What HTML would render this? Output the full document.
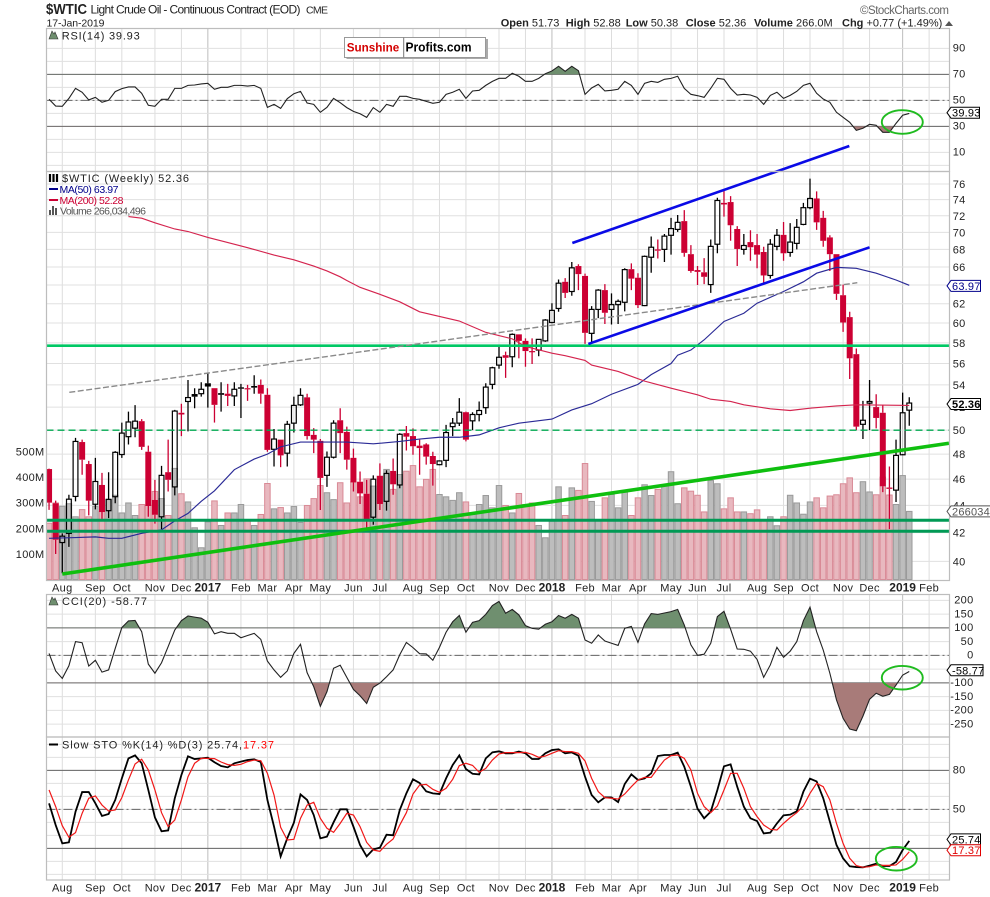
<!DOCTYPE html>
<html lang="en">
<head>
<meta charset="utf-8">
<title>$WTIC Light Crude Oil weekly chart</title>
<style>
html,body{margin:0;padding:0;background:#fff;}
svg{display:block;font-family:"Liberation Sans",sans-serif;}
text{fill:#222;}
</style>
</head>
<body>
<svg id="chart" xmlns="http://www.w3.org/2000/svg" width="990" height="897" viewBox="0 0 990 897">
  <rect x="0" y="0" width="990" height="897" fill="#ffffff"/>
  <g id="gridLayer"></g>
  <g id="markLayer"></g>
  <g id="noteLayer"></g>
  <g id="frameLayer"></g>
  <g id="labelLayer"></g>

  <text x="46" y="14" font-size="14.5" font-weight="bold" textLength="41" lengthAdjust="spacingAndGlyphs">$WTIC</text>
  <text x="90.5" y="13.5" font-size="12" textLength="210">Light Crude Oil - Continuous Contract (EOD)</text>
  <text x="306" y="13.5" font-size="10.5" textLength="22">CME</text>
  <text x="46.5" y="26.5" font-size="10.5" textLength="58">17-Jan-2019</text>
  <text x="860" y="14" font-size="11.5" fill="#666" style="fill:#666" textLength="89">©StockCharts.com</text>

  <g font-size="11">
    <text x="500.7" y="26.5"><tspan font-weight="bold">Open</tspan> 51.73</text>
    <text x="565.7" y="26.5"><tspan font-weight="bold">High</tspan> 52.88</text>
    <text x="625.7" y="26.5"><tspan font-weight="bold">Low</tspan> 50.38</text>
    <text x="685.7" y="26.5"><tspan font-weight="bold">Close</tspan> 52.36</text>
    <text x="754" y="26.5"><tspan font-weight="bold">Volume</tspan> 266.0M</text>
    <text x="842" y="26.5"><tspan font-weight="bold">Chg</tspan> +0.77 (+1.49%)</text>
    <path d="M945 26 L949 21 L953 26 Z" fill="#555"/>
  </g>

  <g>
    <rect x="346.5" y="39" width="141.5" height="20" fill="#aaa"/>
    <rect x="344.5" y="37.5" width="141" height="20" fill="#fff" stroke="#999"/>
    <line x1="403.7" y1="37.5" x2="403.7" y2="57.5" stroke="#777"/>
    <text x="346.7" y="51.5" font-size="12" font-weight="bold" style="fill:#d40000" textLength="52.5" lengthAdjust="spacingAndGlyphs">Sunshine</text>
    <text x="405.5" y="51.5" font-size="12.5" font-weight="bold" style="fill:#000" textLength="66" lengthAdjust="spacingAndGlyphs">Profits.com</text>
  </g>

  <g>
    <path d="M49 39 L52 31 L54 34 L55 32 L58 39 Z" fill="#6f8f6f" stroke="#333" stroke-width=".6"/>
    <text x="61.7" y="39.5" font-size="11" textLength="78">RSI(14) 39.93</text>
  </g>
  <g>
    <path d="M50 174 V182 M53.5 174 V182 M57 174 V182" stroke="#000" stroke-width="2.2"/>
    <text x="62" y="182" font-size="11" textLength="127">$WTIC (Weekly) 52.36</text>
    <line x1="49" y1="189" x2="58" y2="189" stroke="#00008b" stroke-width="2"/>
    <text x="59.5" y="193" font-size="10.5" style="fill:#00008b" textLength="59">MA(50) 63.97</text>
    <line x1="49" y1="200" x2="58" y2="200" stroke="#cc0033" stroke-width="2"/>
    <text x="59.5" y="204" font-size="10.5" style="fill:#cc0033" textLength="64">MA(200) 52.28</text>
    <path d="M49 215 V210 H51 V215 Z M52 215 V206 H54 V215 Z M55 215 V208 H57 V215 Z" fill="#555"/>
    <text x="60" y="214.5" font-size="10.5" style="fill:#555" textLength="86">Volume 266,034,496</text>
  </g>
  <g>
    <path d="M49 605 L52 597 L54 600 L55 598 L58 605 Z" fill="#6f8f6f" stroke="#333" stroke-width=".6"/>
    <text x="62" y="605" font-size="11" textLength="85">CCI(20) -58.77</text>
  </g>
  <g>
    <line x1="49" y1="744.5" x2="58" y2="744.5" stroke="#000" stroke-width="2"/>
    <text x="62" y="748.5" font-size="11" textLength="180">Slow STO %K(14) %D(3) 25.74,</text>
    <text x="243" y="748.5" font-size="11" style="fill:#f00" textLength="31">17.37</text>
  </g>
</svg>

<script>
const monthWeeks = [2,7,11,16,20,24,29,33,37,41,46,50,55,59,63,68,72,76,81,85,89,94,98,102,107,111,115,120,124,129,133];
const monthLabels = ["Aug","Sep","Oct","Nov","Dec","2017","Feb","Mar","Apr","May","Jun","Jul","Aug","Sep","Oct","Nov","Dec","2018","Feb","Mar","Apr","May","Jun","Jul","Aug","Sep","Oct","Nov","Dec","2019","Feb"];

const priceTicks = [76,74,72,70,68,66,64,62,60,58,56,54,52,50,48,46,44,42,40];
const volumeTicks = [500,400,300,200,100];
const rsiTicks = [90,70,50,30,10];
const rsiGrid = [90,80,70,60,50,40,30,20,10,0];
const cciTicks = [200,150,100,50,0,-100,-150,-200,-250];
const cciGrid = [200,150,100,50,0,-50,-100,-150,-200,-250];
const stoTicks = [80,50];
const stoGrid = [100,90,80,70,60,50,40,30,20,10,0];

const opens = [
46.8,44.15,41.3,41.95,44.67,49.0,47.2,44.08,45.55,43.6,
44.65,47.97,49.45,50.17,50.77,48.2,44.4,43.15,46.55,45.4,
51.5,52.5,53.17,53.2,54.15,53.7,53.25,53.2,53.0,53.78,
53.7,53.9,54.0,53.1,48.4,49.2,48.08,50.6,52.2,52.87,
49.6,49.1,46.3,47.75,50.85,49.85,47.7,45.8,44.87,43.12,
46.25,44.3,46.65,45.55,49.75,49.5,48.7,48.8,47.85,47.15,
47.5,50.3,50.6,51.55,50.8,51.35,51.95,54.05,55.85,56.8,
56.65,58.85,58.2,57.2,57.3,58.2,60.05,61.5,64.35,63.3,
66.1,65.0,58.95,61.4,63.45,61.4,61.9,62.15,65.75,64.8,
61.8,67.1,68.0,68.0,69.65,70.35,71.35,67.45,65.65,65.4,
64.05,68.6,73.6,73.7,70.4,68.0,68.85,68.5,67.7,65.05,
68.35,69.7,67.65,68.7,70.95,73.0,74.15,71.75,69.4,67.45,
62.9,60.6,56.9,50.5,52.35,52.0,51.5,45.35,45.15,47.95,
51.73];
const highs = [
46.83,44.35,41.95,44.8,49.35,49.2,47.45,47.7,46.5,46.55,
48.25,50.65,51.6,52.18,50.95,48.7,45.95,47.05,49.2,51.75,
52.3,54.45,53.7,54.25,55.15,53.7,54.25,54.1,54.25,54.1,
54.0,54.9,54.5,53.7,50.1,49.2,50.8,52.93,53.7,53.2,
50.17,49.25,48.22,50.85,51.9,50.3,48.45,46.6,45.95,46.3,
47.25,46.7,47.65,49.75,50.35,50.15,49.2,48.9,48.2,47.5,
50.45,51.05,52.8,51.6,51.55,52.5,54.15,55.7,57.65,57.15,
58.95,58.85,58.45,58.45,58.35,60.4,62.05,64.6,64.75,66.55,
66.3,65.25,61.75,63.55,64.1,63.1,62.45,65.85,66.4,65.3,
67.3,69.5,69.15,69.8,71.75,72.1,72.7,68.5,66.1,67.0,
69.15,74.25,75.15,74.45,70.75,69.8,70.25,69.8,68.3,69.2,
70.4,71.25,71.1,71.6,73.6,76.7,75.05,72.6,69.65,67.45,
64.05,61.15,57.45,52.55,54.45,53.15,52.2,47.0,49.2,53.3,
52.88];
const lows = [
43.66,40.5,39.2,41.0,44.3,46.35,43.25,43.7,43.0,43.05,
44.15,47.7,48.8,49.4,48.35,43.15,42.65,42.25,45.05,44.75,
49.5,49.9,51.9,52.93,51.95,50.65,51.6,52.1,52.1,51.05,
52.55,53.2,52.3,48.2,47.0,46.95,47.0,49.8,52.1,49.2,
48.08,43.65,45.4,47.65,48.08,46.75,45.05,44.1,42.3,42.57,
43.65,43.6,44.8,45.3,48.3,47.95,46.35,47.15,45.5,47.1,
46.95,49.5,50.35,49.05,50.0,50.75,51.4,53.6,55.5,54.65,
55.65,56.5,55.7,55.95,56.7,58.1,59.97,61.15,62.6,62.85,
63.45,57.9,58.0,60.5,59.9,59.85,59.9,61.2,63.45,61.55,
61.75,65.35,66.95,66.55,67.4,70.05,67.15,65.35,64.0,64.1,
63.15,67.55,71.9,69.0,66.1,67.4,66.7,65.85,64.2,64.7,
67.9,66.7,67.15,68.0,70.85,72.8,70.3,68.3,65.55,62.4,
59.1,54.55,50.0,49.25,50.0,50.15,45.0,42.25,44.25,48.0,
50.38];
const closes = [
44.2,41.5,41.75,44.46,49.05,47.55,44.35,45.82,43.5,44.45,
48.15,49.75,50.7,50.77,48.6,43.95,43.3,46.3,45.95,51.65,
51.35,52.85,52.93,53.6,53.85,52.2,53.1,53.0,53.6,53.65,
53.6,53.75,53.2,48.35,49.25,47.9,50.5,52.15,53.05,49.5,
49.2,46.1,47.75,50.6,49.75,47.55,45.75,44.9,42.97,46.0,
44.1,46.45,45.6,49.65,49.45,48.65,48.5,47.8,47.2,47.45,
49.8,50.6,51.55,49.2,51.35,51.7,53.8,55.6,56.6,56.55,
58.85,58.2,57.2,57.15,58.35,60.3,61.3,64.2,63.15,65.9,
65.2,59.0,61.4,63.45,61.05,61.9,62.25,65.7,64.7,61.85,
67.2,68.25,67.85,69.55,70.45,71.2,67.6,65.55,65.45,64.9,
68.35,73.9,73.4,70.85,68.05,68.45,68.25,67.4,65.05,68.6,
69.65,67.55,68.85,70.6,73.0,74.15,71.2,69.0,67.45,63.05,
60.05,56.5,50.3,50.85,52.5,51.05,45.45,45.25,47.9,51.5,
52.36];

const volumes = [
220,299,286,296,245,273,245,286,266,312,
329,260,299,250,293,290,344,316,250,434,
335,303,202,124,225,307,211,260,260,293,
234,211,254,375,276,281,260,285,223,289,
316,367,339,312,378,299,381,323,393,365,
404,430,352,410,423,445,362,391,430,332,
323,309,339,303,260,293,328,280,367,289,
260,336,293,299,211,163,228,362,250,358,
348,453,305,234,319,332,280,341,250,319,
370,328,352,365,421,296,358,345,329,264,
387,374,276,319,264,264,257,272,234,245,
210,245,329,299,255,303,319,280,326,331,
374,397,339,382,342,331,400,330,293,406,
266];
const volumeDirection = (
"dduuuddudu"+
"uuuudddudu"+
"duuuududuu"+
"duddmduuud".replace("m","u")+
"dduudddddu"+
"dududddddu"+
"uuuduuuuud"+
"udddauuudu".replace("a","u")+
"dduuduuudd"+
"uuduuudddd"+
"uudddudddu"+
"uduuuudddd"+
"ddduuddduu"+
"u").split("");

const ma50Weeks = [0,4,7,9,11,14,17,19,21,23,25,28,31,33,35,38,41,45,49,53,56,59,62,65,68,71,76,79,82,85,89,91,94,95,97,99,102,105,107,111,114,116,119,122,125,128,130];
const ma50Values = [41.6,41.65,41.7,41.6,41.6,41.95,42.2,42.85,43.4,44.3,45.1,46.75,47.6,48,48.6,49,49,49,48.85,49.05,49.25,49.4,49.4,49.6,50.2,50.6,50.95,51.75,52.3,53.15,54.05,54.95,56,56.8,57.3,58.3,60.15,61,62.05,63.3,64.35,65.3,65.95,65.85,65.3,64.55,63.97];
const ma200Weeks = [12,14,16,19,21,24,26,29,30,34,37,40,42,44,45,47,50,53,56,62,66,70,72,76,78,81,82,86,90,94,98,100,103,105,109,112,115,119,122,130];
const ma200Values = [71.9,71.7,71.15,70.4,70.1,69.4,69.0,68.4,68.2,67.35,66.8,66.1,65.55,64.9,64.5,63.75,63,62.2,61.15,60.2,59.05,58.4,57.65,57,56.75,56.3,55.85,55.25,54.35,53.7,53.1,52.7,52.5,52.2,51.85,51.7,51.9,52.1,52.2,52.15];

const rsiValues = [
50.8,45.6,45.4,51.5,59.2,56.2,50.3,52.3,48.5,50,
56.7,59,60.3,60.3,55.4,46.2,45.4,50.8,50.8,59.2,
59.2,61.5,61.8,62.6,63.1,58.5,60,60,61.5,61.5,
61,61.5,59.2,44.6,46.9,43.8,51.3,55.1,56.9,47.9,
46.9,40.8,44.6,51.5,48.2,44.4,41.5,39.7,36.9,44.4,
40.8,46.9,45.4,53.1,53.1,51.5,50.8,49.2,47.7,48.5,
54.6,56.2,58.5,51.5,57.2,57.7,61.5,64.6,66.9,66.9,
70.8,68.5,64.6,64.6,66.9,70.5,72.6,76.2,72.3,76.2,
72.8,54.6,59.5,62.3,57.2,57.7,58.5,64.6,61.5,54.6,
63.1,64.6,63.8,66.2,66.9,68.5,59.2,54.6,53.6,52.3,
59.2,66.9,66.2,59.2,54.1,54.6,54.1,52.3,46.9,53.8,
56.2,51.5,53.8,56.9,61.5,63.1,55.4,51,48.5,40.8,
36.9,33.1,26.9,28.5,31.5,30.8,25.4,25.4,32.3,38.5,
39.93];

const cciValues = [
7,-57,-84,-38,50,46,-39,-18,-61,-53,
25,101,125,127,86,-32,-65,-27,32,92,
126,143,139,135,120,78,86,80,80,64,
72,80,58,-21,-53,-80,-57,7,40,-63,
-114,-185,-132,-47,-36,-80,-124,-147,-175,-116,
-101,-78,-53,2,47,28,6,5,-18,29,
84,122,145,84,120,126,149,181,196,153,
167,147,108,98,95,113,122,145,135,149,
135,56,44,74,52,44,36,98,105,47,
114,152,149,154,159,167,110,38,0,4,
44,141,160,95,23,22,15,-15,-80,-35,
29,-7,15,50,126,175,86,19,-65,-162,
-229,-268,-274,-221,-160,-138,-149,-142,-108,-72,
-58.77];

const stoKValues = [
54.6,37.9,23.8,24.6,48.2,63.3,63.3,54.6,44.9,46.4,
57.2,73.8,89.2,91.5,85.4,64.9,43.8,33.1,33.8,58.5,
76.4,90.8,88.7,89.2,89.7,86.2,83.3,82.3,85.4,86.7,
87.9,88.5,86.4,57.2,36.7,13.8,27.7,39.7,61.5,57.2,
45.6,27.7,29,40,50,50,36.7,22.6,13.8,19.2,
20.5,30.5,30,49.5,62.3,73.1,70.3,63.8,62.3,61.8,
73.8,84.1,91.5,81,77.4,76.9,89.2,93.8,94.6,93.1,
93.1,94.4,93.1,88.7,88.7,93.1,95.6,96.2,93.1,93.8,
91.3,75.1,61,55.4,59.2,59.2,55.6,69.5,76.9,72.6,
73.8,77.7,91,91.8,91.8,93.6,82.8,67.4,50.5,43.1,
48.2,64.9,83.1,84.6,67.4,52.1,43.1,41,31.5,32.1,
39.2,45.4,45.9,48.5,63.6,73.6,71.5,58.5,40.5,22.6,
12.3,6.2,5.6,5.4,6.7,8.2,6.4,6.4,9.5,18.7,
25.74];

const stoDValues = [
64.9,52.1,37.4,28.5,32.1,46.9,58.5,60.3,53.3,48.7,
49.5,59,72.6,84.9,88.5,80.3,64.9,47.4,36.7,41.8,
57.2,75.1,85.4,89.2,89.2,89,86.4,84.4,83.8,84.6,
86.7,87.9,87.4,77.7,61,36.2,26.4,26.9,43.1,53.3,
55.4,43.1,35.4,32.3,39.2,46.9,45.6,36.7,24.6,18.7,
17.7,23.1,27.2,37.9,47.4,61.8,68.7,69.2,65.4,63.1,
66.2,73.1,83.6,85.4,83.8,78.5,81.5,87.9,92.6,93.6,
93.6,93.6,93.8,92.3,90,91,93.1,95.1,94.4,94.4,
93.1,87.2,73.8,63.6,59,58.5,57.9,61.8,67.4,72.6,
74.6,74.6,81.5,87.9,91.3,91.8,89.2,80.3,62.3,52.1,
47.4,52.6,64.9,77.7,77.7,66.2,52.1,44.4,37.9,34.6,
34.1,39.2,43.6,47.4,52.6,62.3,70,67.4,57.2,39.2,
23.8,12.3,6.7,5.4,5.9,7.2,6.9,6.9,7.2,11.5,
17.37];

/* Trendline anchors as [week, price] */
const channelUpper = [[79.08,68.74],[120.94,81.07]];
const channelLower = [[81.5,57.9],[124,68.24]];
const grayTrend = [[3.06,53.32],[122.15,64.25]];
const risingSupport = [[2,39.15],[136,48.9]];
const resistancePrice = 57.73;
const dashedSupportPrice = 50;
const lowerBandPrices = [42.9,42.1];

const NS = "http://www.w3.org/2000/svg";
const PANEL_L = 46.5, PANEL_R = 949.5;
const RSI_T = 28.5, PRICE_T = 171.5, PRICE_B = 580.5, CCI_T = 594.5, STO_T = 737, STO_B = 880;

function xAt(week){ return 49.05 + 6.617 * week; }
function yPrice(p){ return 184 + 587.9 * (Math.log(76) - Math.log(p)); }
function yVolume(v){ return 579.5 - 0.256 * v; }
function yRsi(v){ return 126.33 - 1.3 * (v - 30); }
function yCci(v){ return 655.33 - 0.275 * v; }
function ySto(v){ return 848.33 - 1.3 * (v - 20); }

function mk(parent, tag, attrs, text){
  const el = document.createElementNS(NS, tag);
  for (const k in attrs) el.setAttribute(k, attrs[k]);
  if (text !== undefined) el.textContent = text;
  parent.appendChild(el);
  return el;
}
function linePath(xs, ys){
  let d = "";
  for (let i = 0; i < xs.length; i++) d += (i ? "L" : "M") + xs[i].toFixed(2) + " " + ys[i].toFixed(2);
  return d;
}
const svg = document.getElementById("chart");
const gridLayer = document.getElementById("gridLayer");
const markLayer = document.getElementById("markLayer");
const noteLayer = document.getElementById("noteLayer");
const frameLayer = document.getElementById("frameLayer");
const labelLayer = document.getElementById("labelLayer");

const defs = mk(svg, "defs", {});
function addClip(id, x, y, w, h){
  const c = mk(defs, "clipPath", {id: id});
  mk(c, "rect", {x: x, y: y, width: w, height: h});
}
addClip("clipPrice", PANEL_L, PRICE_T, PANEL_R - PANEL_L, PRICE_B - PRICE_T);
addClip("clipRsiHigh", PANEL_L, RSI_T, PANEL_R - PANEL_L, yRsi(70) - RSI_T);
addClip("clipRsiLow", PANEL_L, yRsi(30), PANEL_R - PANEL_L, PRICE_T - yRsi(30));
addClip("clipCciHigh", PANEL_L, CCI_T, PANEL_R - PANEL_L, yCci(100) - CCI_T);
addClip("clipCciLow", PANEL_L, yCci(-100), PANEL_R - PANEL_L, STO_T - yCci(-100));

/* vertical gridlines */
const panelSpans = [[RSI_T, PRICE_T], [PRICE_T, PRICE_B], [CCI_T, STO_T], [STO_T, STO_B]];
monthWeeks.forEach(function(w, idx){
  const isYear = /^\d{4}$/.test(monthLabels[idx]);
  panelSpans.forEach(function(s){
    const g = mk(gridLayer, "line", {x1: xAt(w), x2: xAt(w), y1: s[0], y2: s[1], stroke: isYear ? "#bdbdbd" : "#dddddd", "stroke-width": 1});
    
    
  });
});

/* horizontal gridlines */
function hGrid(values, yFn){
  values.forEach(function(v){
    const g = mk(gridLayer, "line", {x1: PANEL_L, x2: PANEL_R, y1: yFn(v), y2: yFn(v), stroke: "#e0e0e0", "stroke-width": 1});
    
    
  });
}
hGrid(rsiGrid, yRsi);
hGrid(priceTicks, yPrice);
hGrid(cciGrid, yCci);
hGrid(stoGrid, ySto);

/* reference levels */
function refLine(v, yFn, dashed){
  const a = {x1: PANEL_L, x2: PANEL_R, y1: yFn(v), y2: yFn(v), stroke: "#666", "stroke-width": 1};
  if (dashed) a["stroke-dasharray"] = "9 3 2 3";
  const g = mk(gridLayer, "line", a);
  
  
}
refLine(70, yRsi); refLine(50, yRsi, true); refLine(30, yRsi);
refLine(100, yCci); refLine(0, yCci, true); refLine(-100, yCci);
refLine(80, ySto); refLine(50, ySto, true); refLine(20, ySto);

/* volume bars */
const priceClip = mk(markLayer, "g", {"clip-path": "url(#clipPrice)"});


volumes.forEach(function(v, i){
  const y = yVolume(v);
  const down = volumeDirection[i] === "d";
  const b = mk(priceClip, "rect", {x: xAt(i) - 2.75, y: y, width: 5.5, height: yVolume(0) - y, fill: down ? "#e8b8bf" : "#bdbdbd", stroke: down ? "#d98a96" : "#9a9a9a", "stroke-width": 1});
  
  
});

/* candles */
closes.forEach(function(c, i){
  const o = opens[i], h = highs[i], l = lows[i];
  const x = xAt(i);
  const up = c >= o;
  const prev = i ? closes[i - 1] : o;
  const color = up ? "#000" : (c < prev ? "#cc0033" : "#000");
  const top = yPrice(Math.max(o, c)), bot = yPrice(Math.min(o, c));
  const wick = mk(priceClip, "path", {d: "M" + x + " " + yPrice(h) + "V" + top + "M" + x + " " + bot + "V" + yPrice(l), stroke: color, "stroke-width": 1.3, fill: "none"});
  
  
  const body = up
    ? mk(priceClip, "rect", {x: x - 2.4, y: top, width: 4.8, height: Math.max(bot - top, 1), fill: "none", stroke: "#000", "stroke-width": 1.2})
    : mk(priceClip, "rect", {x: x - 3, y: top, width: 6, height: Math.max(bot - top, 1.2), fill: color});
  
  
});

/* moving averages */
const ma50 = mk(priceClip, "path", {d: linePath(ma50Weeks.map(xAt), ma50Values.map(yPrice)), fill: "none", stroke: "#2a2a96", "stroke-width": 1.15});


const ma200 = mk(priceClip, "path", {d: linePath(ma200Weeks.map(xAt), ma200Values.map(yPrice)), fill: "none", stroke: "#d4244e", "stroke-width": 1.15});



/* indicator lines with shaded zones */
function xsOf(arr){ return arr.map(function(_, i){ return xAt(i); }); }
function zone(values, yFn, level, clipId, fill){
  const xs = xsOf(values), ys = values.map(yFn);
  const d = "M" + xs[0] + " " + yFn(level) + linePath(xs, ys).replace(/^M/, "L") + "L" + xs[xs.length - 1] + " " + yFn(level) + "Z";
  const z = mk(markLayer, "path", {d: d, fill: fill, "clip-path": "url(#" + clipId + ")"});
  
  
}
zone(rsiValues, yRsi, 70, "clipRsiHigh", "#6f8f6f");
zone(rsiValues, yRsi, 30, "clipRsiLow", "#a87b79");
zone(cciValues, yCci, 100, "clipCciHigh", "#6f8f6f");
zone(cciValues, yCci, -100, "clipCciLow", "#a87b79");

const rsiLine = mk(markLayer, "path", {d: linePath(xsOf(rsiValues), rsiValues.map(yRsi)), fill: "none", stroke: "#222", "stroke-width": 1.1});


const cciLine = mk(markLayer, "path", {d: linePath(xsOf(cciValues), cciValues.map(yCci)), fill: "none", stroke: "#222", "stroke-width": 1.1});


const kLine = mk(markLayer, "path", {d: linePath(xsOf(stoKValues), stoKValues.map(ySto)), fill: "none", stroke: "#000", "stroke-width": 1.8});


const dLine = mk(markLayer, "path", {d: linePath(xsOf(stoDValues), stoDValues.map(ySto)), fill: "none", stroke: "#f01818", "stroke-width": 1.2});



/* annotations */
const dashedSupport = mk(noteLayer, "line", {x1: PANEL_L, x2: PANEL_R, y1: yPrice(dashedSupportPrice), y2: yPrice(dashedSupportPrice), stroke: "#00a850", "stroke-width": 1.4, "stroke-dasharray": "7 4"});


const resistance = mk(noteLayer, "line", {x1: PANEL_L, x2: PANEL_R, y1: yPrice(resistancePrice), y2: yPrice(resistancePrice), stroke: "#00c864", "stroke-width": 2.6});


lowerBandPrices.forEach(function(p){
  const l = mk(noteLayer, "line", {x1: PANEL_L, x2: PANEL_R, y1: yPrice(p), y2: yPrice(p), stroke: "#009a55", "stroke-width": 3});
  
  
});
function trend(points, stroke, width, dash){
  const a = {x1: xAt(points[0][0]), y1: yPrice(points[0][1]), x2: xAt(points[1][0]), y2: yPrice(points[1][1]), stroke: stroke, "stroke-width": width};
  if (dash) a["stroke-dasharray"] = dash;
  const l = mk(noteLayer, "line", a);
  
  
}
trend(grayTrend, "#8a8a8a", 1.4, "6 2.5");
trend(risingSupport, "#0fbf0f", 3.6);
trend(channelUpper, "#0a0ae6", 2.6);
trend(channelLower, "#0a0ae6", 2.6);

const ringRsi = mk(noteLayer, "ellipse", {cx: 902.3, cy: 122, rx: 20.5, ry: 11.8, fill: "none", stroke: "#1fbb1f", "stroke-width": 1.9});


const ringCci = mk(noteLayer, "ellipse", {cx: 902.3, cy: 677.7, rx: 20.5, ry: 11.8, fill: "none", stroke: "#1fbb1f", "stroke-width": 1.9});


const ringSto = mk(noteLayer, "ellipse", {cx: 896.3, cy: 858.7, rx: 20.5, ry: 11.8, fill: "none", stroke: "#1fbb1f", "stroke-width": 1.9});



/* frames */
[[RSI_T, PRICE_T], [PRICE_T, PRICE_B], [CCI_T, STO_T], [STO_T, STO_B]].forEach(function(s){
  const f = mk(frameLayer, "rect", {x: PANEL_L, y: s[0], width: PANEL_R - PANEL_L, height: s[1] - s[0], fill: "none", stroke: "#bdbdbd", "stroke-width": 1.2});
  
  
});

/* tick labels */
function tickText(x, y, str, anchor){
  const t = mk(labelLayer, "text", {x: x, y: y + 4, "font-size": 11, "text-anchor": anchor, "letter-spacing": ".3"}, str);
  
  
}
rsiTicks.forEach(function(v){ tickText(952.7, yRsi(v) - .6, String(v), "start"); });
priceTicks.forEach(function(v){ tickText(952.7, yPrice(v), String(v), "start"); });
cciTicks.forEach(function(v){ tickText(973.5, yCci(v) - .6, String(v), "end"); });
stoTicks.forEach(function(v){ tickText(952.7, ySto(v) - .6, String(v), "start"); });
volumeTicks.forEach(function(v){ tickText(44.5, yVolume(v), v + "M", "end"); });

function monthText(week, str, y){
  const isYear = /^\d{4}$/.test(str);
  const a = {x: xAt(week), y: y + 4, "font-size": isYear ? 12 : 11, "text-anchor": "middle", "letter-spacing": isYear ? "0" : ".3"};
  if (isYear) a["font-weight"] = "bold";
  const t = mk(labelLayer, "text", a, str);
  
  
}
monthWeeks.forEach(function(w, i){
  monthText(w, monthLabels[i], 587.7);
  monthText(w, monthLabels[i], 887.7);
});

/* value tags on the right axis */
function valueTag(y, str, color, bold, right){
  const p = mk(labelLayer, "path", {d: "M947 " + y + "L951 " + (y - 5.5) + "H" + right + "V" + (y + 5.5) + "H951Z", fill: "#fff", stroke: color, "stroke-width": 1});
  
  
  const a = {x: 952, y: y + 4, "font-size": 11, "letter-spacing": ".2"};
  if (bold) a["font-weight"] = "bold";
  const t = mk(labelLayer, "text", a, str);
  t.style.fill = color;
  
  
}
valueTag(yRsi(rsiValues[130]) - .7, "39.93", "#000", false, 979.5);
valueTag(yPrice(63.97) + .6, "63.97", "#00008b", false, 980.5);
valueTag(yVolume(volumes[130]), "266034", "#555", false, 992);
valueTag(yPrice(closes[130]) + 1, "52.36", "#000", true, 980.5);
valueTag(yCci(cciValues[130]) - 1.2, "-58.77", "#000", false, 983);
valueTag(ySto(stoKValues[130]) - 1.5, "25.74", "#000", false, 980.5);
valueTag(ySto(stoDValues[130]) - 1.5, "17.37", "#e00000", false, 980.5);
</script>
</body>
</html>
